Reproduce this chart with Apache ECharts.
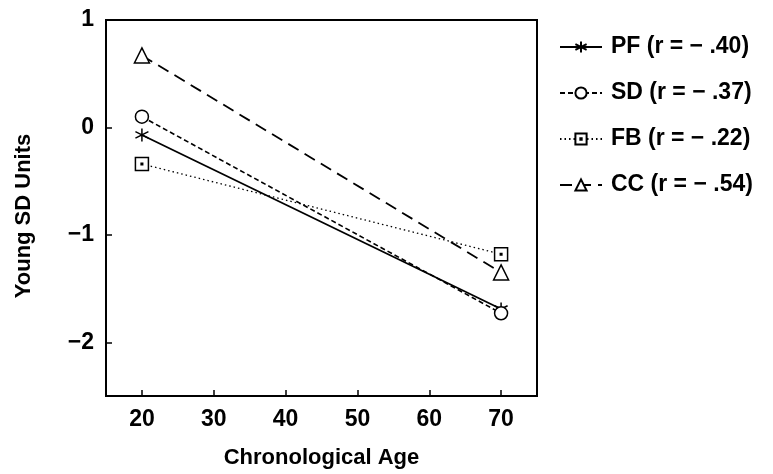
<!DOCTYPE html>
<html>
<head>
<meta charset="utf-8">
<script src="https://cdn.jsdelivr.net/npm/echarts@6/dist/echarts.min.js"></script>
<style>html,body{margin:0;padding:0;background:#fff}#c{width:773px;height:474px}</style>
</head>
<body>
<div id="c"></div>
<script>
const ages = [20, 70];
const PF = [-0.07, -1.69];
const SD = [0.10, -1.73];
const FB = [-0.34, -1.18];
const CC = [0.67, -1.35];
const seriesNames = ['PF (r = − .40)', 'SD (r = − .37)', 'FB (r = − .22)', 'CC (r = − .54)'];
const xTicks = [20, 30, 40, 50, 60, 70];
const yTicks = [-2, -1, 0, 1];

const asterisk = 'path://M0,-1L0,1M-0.87,-0.5L0.87,0.5M-0.87,0.5L0.87,-0.5';
const dotSquare = 'path://M-1,-1L1,-1L1,1L-1,1ZM-0.12,-0.12L0.12,-0.12L0.12,0.12L-0.12,0.12Z';

function pts(v) { return ages.map((a, i) => [a, v[i]]); }

const font = 'Liberation Sans';
const chart = echarts.init(document.getElementById('c'), null, {renderer: 'canvas'});
const mk = (name, data, symbol, size, ltype, lw) => ({
  name, type: 'line', data: pts(data), symbol, symbolSize: size,
  color: '#000',
  lineStyle: {color: '#000', width: lw, type: ltype},
  itemStyle: {color: '#fff', borderColor: '#000', borderWidth: 1.5},
  z: 3
});
chart.setOption({
  animation: false,
  backgroundColor: '#fff',
  grid: {left: 106, right: 236, top: 20, bottom: 76, show: true, borderColor: '#000', borderWidth: 2, backgroundColor: 'transparent'},
  xAxis: {
    type: 'value', min: 15, max: 75,
    name: 'Chronological Age', nameLocation: 'middle', nameGap: 51,
    nameTextStyle: {fontFamily: font, fontSize: 22, fontWeight: 'bold', color: '#000'},
    axisLine: {show: true, onZero: false, lineStyle: {color: '#000', width: 2}},
    axisTick: {show: true, inside: true, length: 6, customValues: xTicks, lineStyle: {color: '#000', width: 1.5}},
    axisLabel: {customValues: xTicks, margin: 12, fontFamily: font, fontSize: 23, fontWeight: 'bold', color: '#000'},
    splitLine: {show: false}
  },
  yAxis: {
    type: 'value', min: -2.5, max: 1,
    name: 'Young SD Units', nameLocation: 'middle', nameGap: 71,
    nameTextStyle: {fontFamily: font, fontSize: 22, fontWeight: 'bold', color: '#000', padding: [0, 16, 0, 0]},
    axisLine: {show: true, onZero: false, lineStyle: {color: '#000', width: 2}},
    axisTick: {show: true, inside: true, length: 6, customValues: yTicks, lineStyle: {color: '#000', width: 1.5}},
    axisLabel: {customValues: yTicks, margin: 12, fontFamily: font, fontSize: 23, fontWeight: 'bold', color: '#000',
      formatter: v => String(v).replace('-', '−')},
    splitLine: {show: false}
  },
  legend: {
    orient: 'vertical', left: 559, top: 35, padding: 0,
    itemWidth: 42, itemHeight: 14, itemGap: 22,
    data: seriesNames,
    textStyle: {fontFamily: font, fontSize: 23, fontWeight: 'bold', color: '#000', lineHeight: 24, padding: [0, 0, 0, 4]}
  },
  series: [
    mk(seriesNames[0], PF, asterisk, 13, 'solid', 1.8),
    mk(seriesNames[1], SD, 'circle', 13, [5, 3], 1.6),
    mk(seriesNames[2], FB, dotSquare, 13, [1.5, 3], 1.3),
    mk(seriesNames[3], CC, 'triangle', 15, [12, 7], 1.8)
  ]
});
</script>
</body>
</html>
